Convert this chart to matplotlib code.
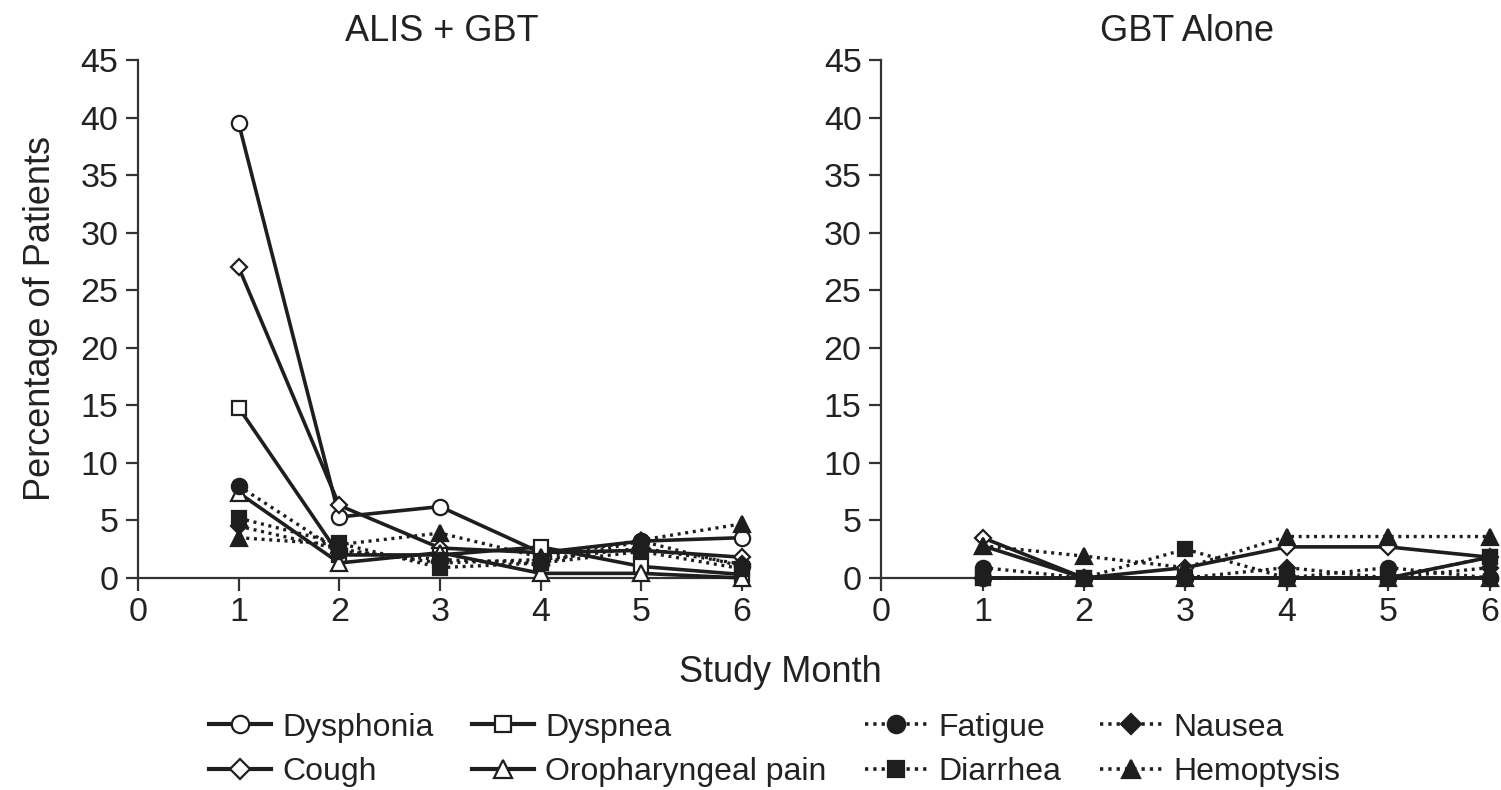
import matplotlib
matplotlib.use("Agg")
import matplotlib.pyplot as plt
from matplotlib.lines import Line2D

plt.rcParams['font.family'] = ['Liberation Sans', 'DejaVu Sans']

months = [1, 2, 3, 4, 5, 6]
panel_titles = ["ALIS + GBT", "GBT Alone"]
series_names = ["Dysphonia", "Cough", "Dyspnea", "Oropharyngeal pain",
                "Fatigue", "Diarrhea", "Nausea", "Hemoptysis"]

# percentage of patients per study month, ALIS + GBT arm
alis_dysphonia = [39.5, 5.3, 6.2, 2.2, 3.2, 3.5]
alis_cough = [27.0, 6.3, 2.6, 2.2, 2.4, 1.8]
alis_dyspnea = [14.8, 2.0, 2.0, 2.7, 1.0, 0.3]
alis_oropharyngeal = [7.4, 1.3, 2.2, 0.4, 0.4, 0.0]
alis_fatigue = [8.0, 2.3, 1.6, 1.3, 3.2, 1.0]
alis_diarrhea = [5.2, 3.0, 0.9, 1.3, 2.3, 0.8]
alis_nausea = [4.5, 2.5, 1.3, 1.6, 2.6, 1.2]
alis_hemoptysis = [3.5, 2.9, 3.9, 1.8, 3.3, 4.7]

# percentage of patients per study month, GBT alone arm
gbt_dysphonia = [0.0, 0.0, 0.0, 0.0, 0.0, 0.0]
gbt_cough = [3.5, 0.0, 0.9, 2.7, 2.7, 1.8]
gbt_dyspnea = [0.0, 0.0, 0.0, 0.0, 0.0, 1.8]
gbt_oropharyngeal = [2.8, 0.0, 0.0, 0.0, 0.0, 0.0]
gbt_fatigue = [0.9, 0.0, 0.0, 0.0, 0.9, 0.0]
gbt_diarrhea = [0.0, 0.0, 2.5, 0.0, 0.0, 1.8]
gbt_nausea = [0.0, 0.0, 0.0, 0.9, 0.0, 0.9]
gbt_hemoptysis = [2.8, 1.9, 0.9, 3.6, 3.6, 3.6]

x_ticks = [0, 1, 2, 3, 4, 5, 6]
y_ticks = [0, 5, 10, 15, 20, 25, 30, 35, 40, 45]

ink = "#1e1e1e"
txt = "#222222"
dots = (0, (0.9, 1.4))
styles = {
    "Dysphonia": dict(marker="o", ls="-", mfc="white"),
    "Cough": dict(marker="D", ls="-", mfc="white"),
    "Dyspnea": dict(marker="s", ls="-", mfc="white"),
    "Oropharyngeal pain": dict(marker="^", ls="-", mfc="white"),
    "Fatigue": dict(marker="o", ls=dots, mfc=ink),
    "Diarrhea": dict(marker="s", ls=dots, mfc=ink),
    "Nausea": dict(marker="D", ls=dots, mfc=ink),
    "Hemoptysis": dict(marker="^", ls=dots, mfc=ink),
}
sizes = {"o": 11, "s": 10.5, "D": 8.5, "^": 11}

panels = [
    [alis_dysphonia, alis_cough, alis_dyspnea, alis_oropharyngeal,
     alis_fatigue, alis_diarrhea, alis_nausea, alis_hemoptysis],
    [gbt_dysphonia, gbt_cough, gbt_dyspnea, gbt_oropharyngeal,
     gbt_fatigue, gbt_diarrhea, gbt_nausea, gbt_hemoptysis],
]

fig = plt.figure(figsize=(15.01, 7.90), dpi=100)
ax_l = fig.add_axes([0.0919, 0.2684, 0.4045, 0.6557])
ax_r = fig.add_axes([0.5870, 0.2684, 0.4075, 0.6557])

for ax, title, values in zip([ax_l, ax_r], panel_titles, panels):
    for i, name in enumerate(series_names):
        st = styles[name]
        solid = st["ls"] == "-"
        ax.plot(months, values[i], color=ink, lw=2.6 if solid else 2.4,
                ls=st["ls"], marker=st["marker"], ms=sizes[st["marker"]],
                mfc=st["mfc"], mec=ink, mew=1.6, clip_on=False,
                zorder=3 if solid else 4)
    ax.set_xlim(0, 6.03)
    ax.set_ylim(0, 45)
    ax.set_xticks(x_ticks)
    ax.set_yticks(y_ticks)
    for s in ["top", "right"]:
        ax.spines[s].set_visible(False)
    for s in ["left", "bottom"]:
        ax.spines[s].set_linewidth(1.6)
        ax.spines[s].set_color("#333333")
    ax.tick_params(direction="out", length=9, width=1.6, color="#333333",
                   labelsize=24.5, labelcolor=txt, pad=5)
    ax.set_title(title, fontsize=26, color=txt, pad=14)

ax_l.set_ylabel("Percentage of Patients", fontsize=26, color=txt, labelpad=16)
fig.text(0.52, 0.149, "Study Month", fontsize=26, color=txt,
         ha="center", va="center")

handles = []
for name in series_names:
    st = styles[name]
    handles.append(Line2D([], [], color=ink, lw=3 if st["ls"] == "-" else 2.6,
                          ls=st["ls"], marker=st["marker"],
                          ms=sizes[st["marker"]] + 1.5, mfc=st["mfc"], mec=ink,
                          mew=1.6))
fig.legend(handles, series_names,
           loc="center", bbox_to_anchor=(0.516, 0.051), ncol=4, frameon=False,
           fontsize=23, handlelength=1.95, handletextpad=0.35,
           columnspacing=1.2, labelspacing=0.45, labelcolor=txt)

fig.savefig("out.png", dpi=100)
